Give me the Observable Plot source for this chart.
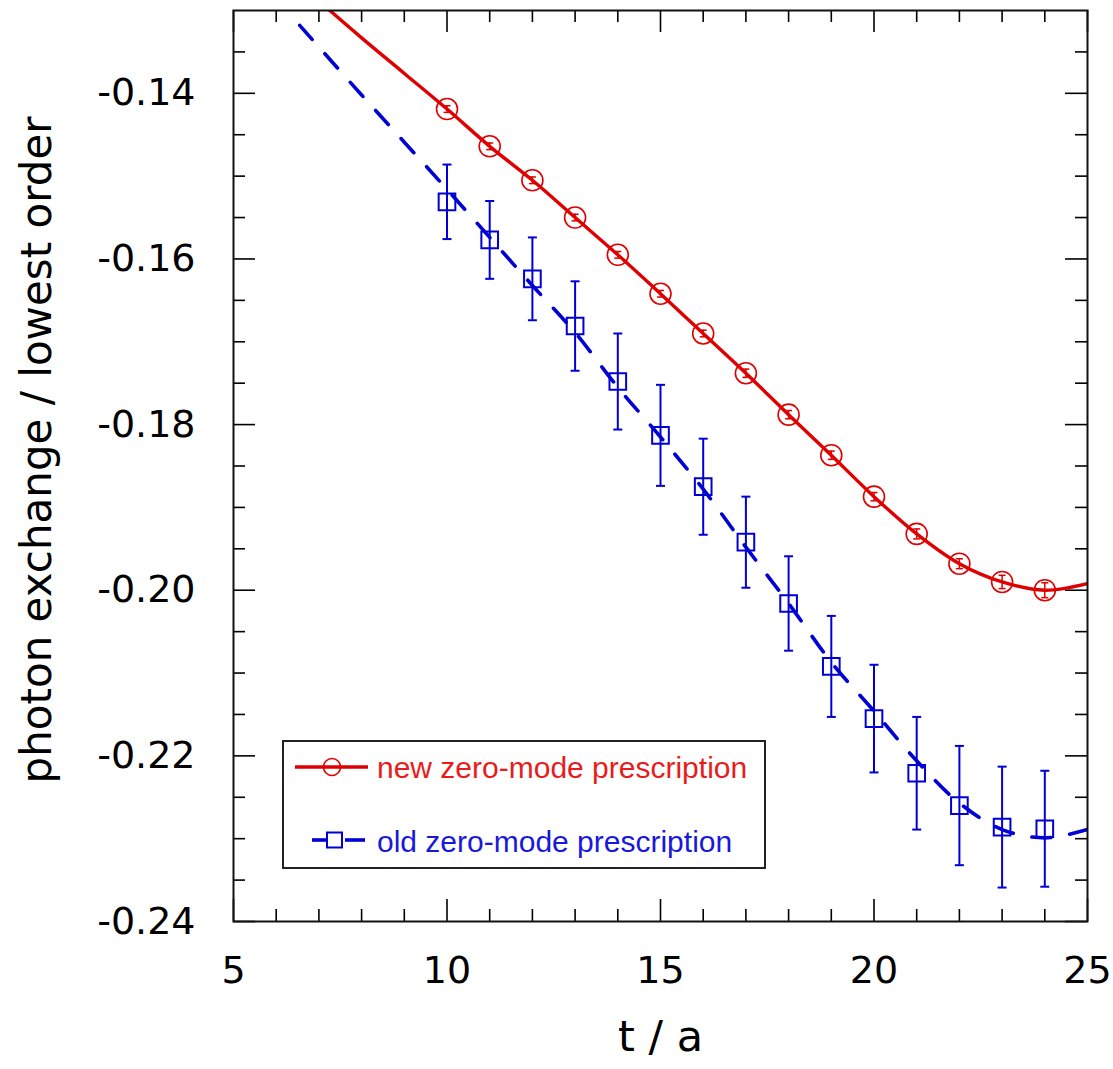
<!DOCTYPE html>
<html>
<head>
<meta charset="utf-8">
<script src="https://cdn.jsdelivr.net/npm/d3@7"></script>
<script src="https://cdn.jsdelivr.net/npm/@observablehq/plot@0.6"></script>
<style>
  html, body { margin: 0; padding: 0; background: #fff; }
  #chart svg { display: block; }
</style>
</head>
<body>
<div id="chart"></div>
<script>
// ---------- data ----------
const tPoints = [10, 11, 12, 13, 14, 15, 16, 17, 18, 19, 20, 21, 22, 23, 24];

const newValues = [-0.1419, -0.1464, -0.1505, -0.1550, -0.1595, -0.1642, -0.1690, -0.1738,
                   -0.1788, -0.1837, -0.1887, -0.1932, -0.1968, -0.1990, -0.2000];
const newErrors = [0.0004, 0.0004, 0.0004, 0.0004, 0.0004, 0.0004, 0.0004, 0.0005,
                   0.0005, 0.0005, 0.0005, 0.0006, 0.0006, 0.0008, 0.0009];

const oldValues = [-0.1531, -0.1577, -0.1624, -0.1681, -0.1748, -0.1813, -0.1875, -0.1942,
                   -0.2016, -0.2092, -0.2155, -0.2221, -0.2260, -0.2286, -0.2288];
const oldErrors = [0.0045, 0.0047, 0.0050, 0.0054, 0.0058, 0.0061, 0.0058, 0.0055,
                   0.0057, 0.0061, 0.0065, 0.0068, 0.0072, 0.0073, 0.0070];

const newCurveT = [7.19, 8, 9, 10, 11, 12, 13, 14, 15, 16, 17, 18, 19, 20, 21, 22, 23, 24, 25];
const newCurveV = [-0.1297, -0.1333, -0.1376, -0.1419, -0.1464, -0.1505, -0.1550, -0.1595,
                   -0.1642, -0.1690, -0.1738, -0.1788, -0.1837, -0.1887, -0.1932, -0.1968,
                   -0.1990, -0.2000, -0.1992];

const oldCurveT = [6.55, 8, 9, 10, 11, 12, 13, 14, 15, 16, 17, 18, 19, 20, 21, 22, 23, 24, 25];
const oldCurveV = [-0.1318, -0.1402, -0.1459, -0.1516, -0.1574, -0.1632, -0.1689, -0.1755,
                   -0.1815, -0.1878, -0.1948, -0.2016, -0.2087, -0.2146, -0.2206, -0.2257,
                   -0.2289, -0.2299, -0.2289];

const xMajorTicks = [5, 10, 15, 20, 25];
const xMinorTicks = [6, 7, 8, 9, 11, 12, 13, 14, 16, 17, 18, 19, 21, 22, 23, 24];
const yMajorTicks = [-0.24, -0.22, -0.20, -0.18, -0.16, -0.14];
const yMinorTicks = [-0.235, -0.23, -0.225, -0.215, -0.21, -0.205, -0.195, -0.19, -0.185,
                     -0.175, -0.17, -0.165, -0.155, -0.15, -0.145, -0.135];

const seriesLabels = ["new zero-mode prescription", "old zero-mode prescription"];
const xTitle = "t / a";
const yTitle = "photon exchange / lowest order";

// ---------- tables ----------
const newData = tPoints.map((t, i) => ({t, v: newValues[i], e: newErrors[i]}));
const oldData = tPoints.map((t, i) => ({t, v: oldValues[i], e: oldErrors[i]}));
const newCurve = newCurveT.map((t, i) => ({t, v: newCurveV[i]}));
const oldCurve = oldCurveT.map((t, i) => ({t, v: oldCurveV[i]}));

// ---------- layout ----------
const W = 1113, H = 1069;
const mL = 233, mR = 26, mT = 10, mB = 148;
const fw = W - mL - mR, fh = H - mT - mB;
const RED = "#e00000", BLUE = "#0000d4";
const majorLen = 22, minorLen = 12;

const capSymbol = {
  draw(ctx, size) {
    const h = Math.sqrt(size / Math.PI);
    ctx.moveTo(-h, 0);
    ctx.lineTo(h, 0);
  }
};

const chart = Plot.plot({
  width: W, height: H,
  marginLeft: mL, marginRight: mR, marginTop: mT, marginBottom: mB,
  style: {fontFamily: "DejaVu Sans", background: "white", color: "black"},
  x: {domain: [5, 25], label: null},
  y: {domain: [-0.24, -0.13], label: null},
  marks: [
    // ticks (inward, all four sides)
    Plot.tickX(xMajorTicks, {x: d => d, insetTop: fh - majorLen, stroke: "black", strokeWidth: 1.6}),
    Plot.tickX(xMinorTicks, {x: d => d, insetTop: fh - minorLen, stroke: "black", strokeWidth: 1.6}),
    Plot.tickX(xMajorTicks, {x: d => d, insetBottom: fh - majorLen, stroke: "black", strokeWidth: 1.6}),
    Plot.tickX(xMinorTicks, {x: d => d, insetBottom: fh - minorLen, stroke: "black", strokeWidth: 1.6}),
    Plot.tickY(yMajorTicks, {y: d => d, insetRight: fw - majorLen, stroke: "black", strokeWidth: 1.6}),
    Plot.tickY(yMinorTicks, {y: d => d, insetRight: fw - minorLen, stroke: "black", strokeWidth: 1.6}),
    Plot.tickY(yMajorTicks, {y: d => d, insetLeft: fw - majorLen, stroke: "black", strokeWidth: 1.6}),
    Plot.tickY(yMinorTicks, {y: d => d, insetLeft: fw - minorLen, stroke: "black", strokeWidth: 1.6}),
    // tick labels
    Plot.axisX(xMajorTicks, {tickSize: 0, tickPadding: 35, fontSize: 38, fontFamily: "DejaVu Sans",
                             tickFormat: d => String(d), label: null}),
    Plot.axisY(yMajorTicks, {tickSize: 0, tickPadding: 38, fontSize: 38, fontFamily: "DejaVu Sans",
                             tickFormat: d => d.toFixed(2), label: null}),
    // axis titles
    Plot.text([xTitle], {frameAnchor: "bottom", text: d => d, dy: 129, fontSize: 43,
                         fontFamily: "DejaVu Sans", fill: "black", textAnchor: "middle"}),
    Plot.text([yTitle], {frameAnchor: "left", text: d => d, rotate: -90, dx: -196, dy: -16,
                         fontSize: 42, fontFamily: "DejaVu Sans", fill: "black", textAnchor: "middle"}),
    // curves
    Plot.line(newCurve, {x: "t", y: "v", stroke: RED, strokeWidth: 3.4, curve: "catmull-rom", clip: true}),
    Plot.line(oldCurve, {x: "t", y: "v", stroke: BLUE, strokeWidth: 3.6, curve: "catmull-rom",
                         strokeDasharray: "19,19", strokeLinecap: "round", clip: true}),
    // error bars
    Plot.ruleX(newData, {x: "t", y1: d => d.v - d.e, y2: d => d.v + d.e, stroke: RED, strokeWidth: 1.5}),
    Plot.dot(newData, {x: "t", y: d => d.v - d.e, symbol: capSymbol, r: 3.5, stroke: RED, strokeWidth: 1.5, fill: "none"}),
    Plot.dot(newData, {x: "t", y: d => d.v + d.e, symbol: capSymbol, r: 3.5, stroke: RED, strokeWidth: 1.5, fill: "none"}),
    Plot.ruleX(oldData, {x: "t", y1: d => d.v - d.e, y2: d => d.v + d.e, stroke: BLUE, strokeWidth: 2}),
    Plot.dot(oldData, {x: "t", y: d => d.v - d.e, symbol: capSymbol, r: 4.5, stroke: BLUE, strokeWidth: 2, fill: "none"}),
    Plot.dot(oldData, {x: "t", y: d => d.v + d.e, symbol: capSymbol, r: 4.5, stroke: BLUE, strokeWidth: 2, fill: "none"}),
    // markers
    Plot.dot(newData, {x: "t", y: "v", r: 10.5, stroke: RED, strokeWidth: 1.6, fill: "none"}),
    Plot.dot(oldData, {x: "t", y: "v", symbol: "square", r: 9.4, stroke: BLUE, strokeWidth: 2, fill: "none"}),
    // frame
    Plot.frame({stroke: "#111", strokeWidth: 2})
  ]
});

document.getElementById("chart").appendChild(chart);

// ---------- legend ----------
const svg = d3.select(chart);
const lg = svg.append("g").attr("class", "legend").attr("text-anchor", "start");
lg.append("rect").attr("x", 283).attr("y", 741).attr("width", 482).attr("height", 127)
  .attr("fill", "white").attr("stroke", "#222").attr("stroke-width", 2);
// new
lg.append("line").attr("x1", 295).attr("x2", 368).attr("y1", 767).attr("y2", 767)
  .attr("stroke", RED).attr("stroke-width", 3.4);
lg.append("circle").attr("cx", 332).attr("cy", 767).attr("r", 8.5)
  .attr("fill", "none").attr("stroke", RED).attr("stroke-width", 1.6);
lg.append("text").attr("x", 377).attr("y", 778).attr("text-anchor", "start").text(seriesLabels[0])
  .attr("fill", "#e81c1c").attr("font-size", 30).attr("font-family", "Liberation Sans");
// old
lg.append("line").attr("x1", 312).attr("x2", 327).attr("y1", 840).attr("y2", 840)
  .attr("stroke", BLUE).attr("stroke-width", 3.6);
lg.append("line").attr("x1", 345).attr("x2", 365).attr("y1", 840).attr("y2", 840)
  .attr("stroke", BLUE).attr("stroke-width", 3.6);
lg.append("rect").attr("x", 327).attr("y", 832.5).attr("width", 15).attr("height", 15)
  .attr("fill", "none").attr("stroke", BLUE).attr("stroke-width", 2);
lg.append("text").attr("x", 377).attr("y", 852).attr("text-anchor", "start").text(seriesLabels[1])
  .attr("fill", "#1818dc").attr("font-size", 30).attr("font-family", "Liberation Sans");
</script>
</body>
</html>
